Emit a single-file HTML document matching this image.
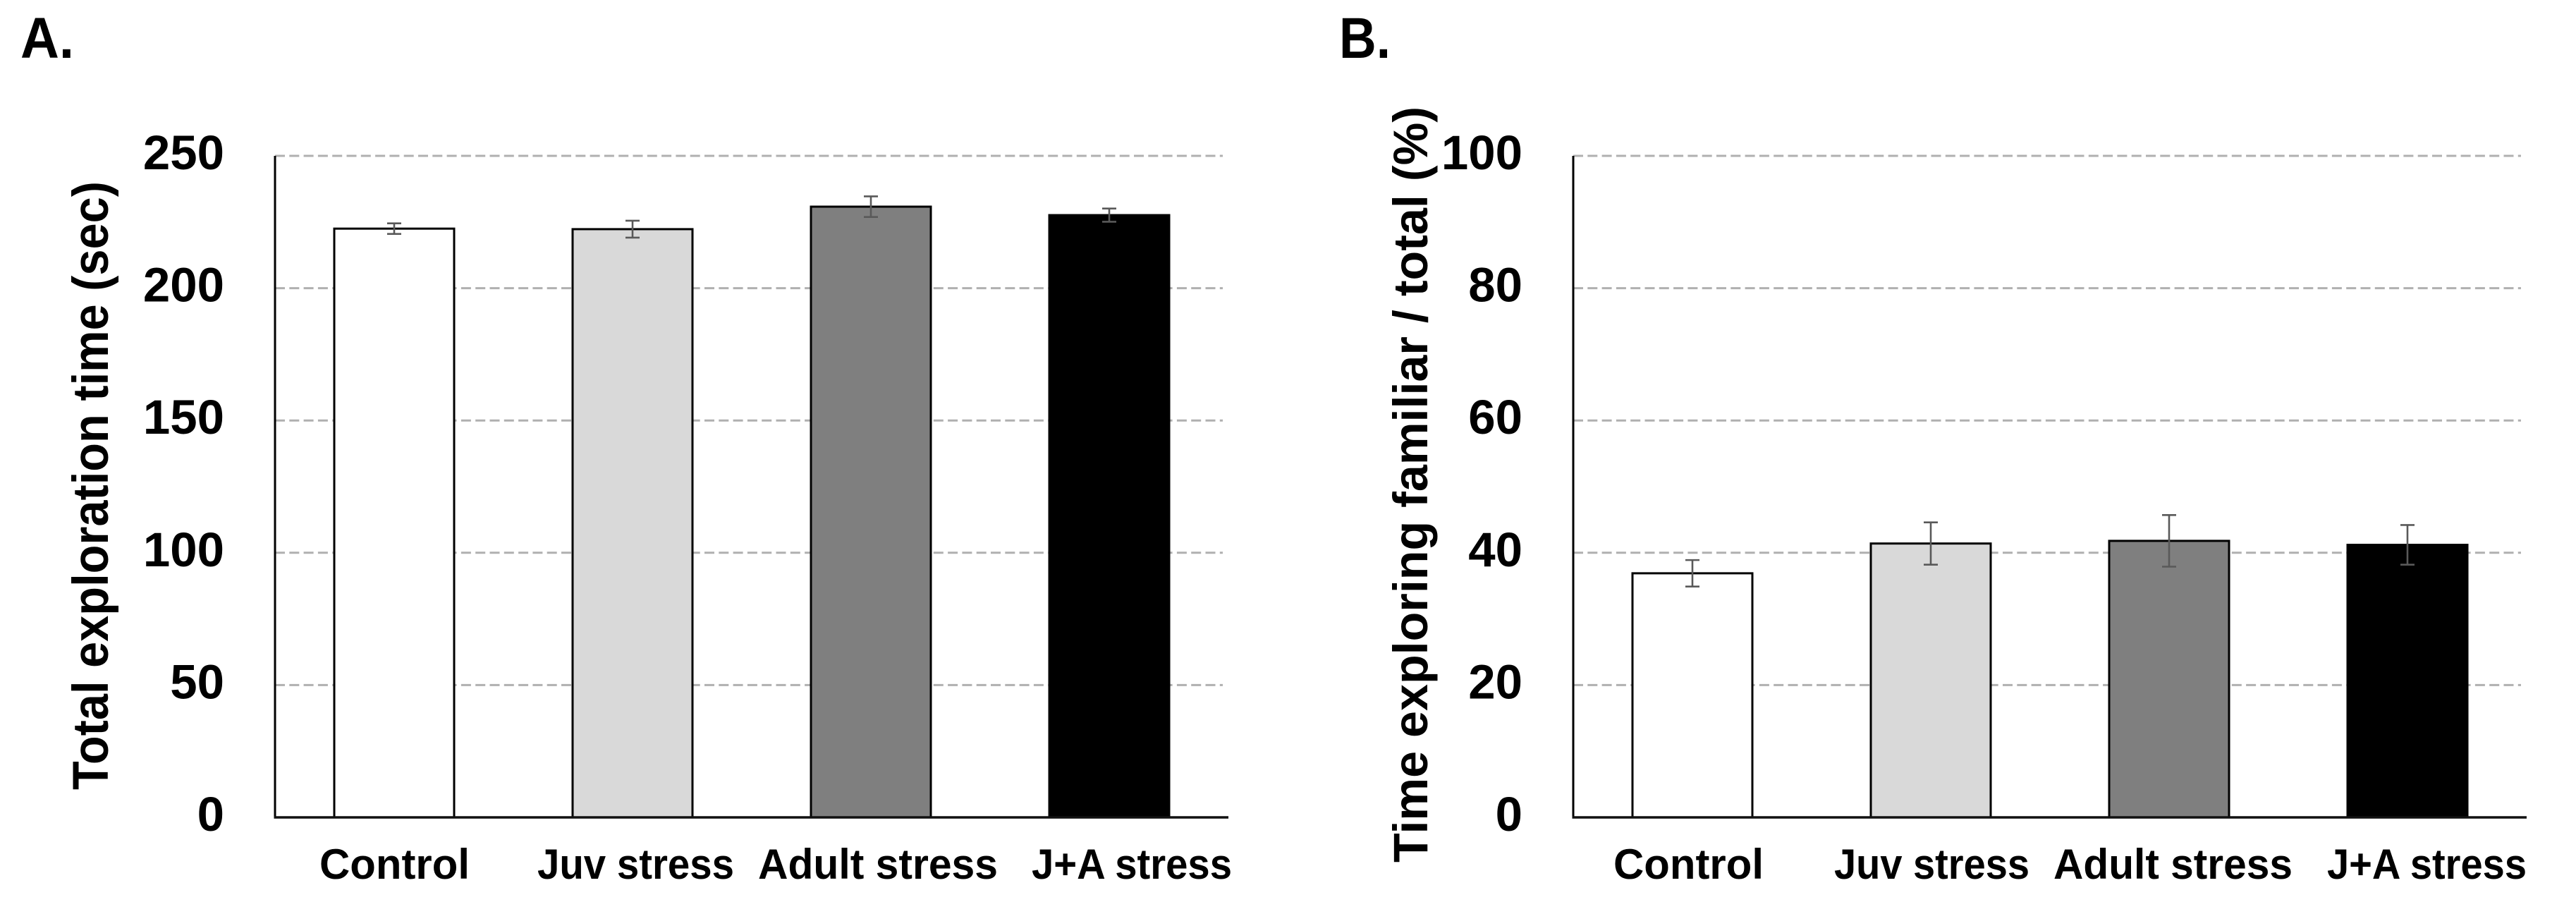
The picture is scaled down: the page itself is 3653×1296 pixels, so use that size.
<!DOCTYPE html>
<html lang="en">
<head>
<meta charset="utf-8">
<title>Exploration time by stress group</title>
<style>
  html, body { margin: 0; padding: 0; background: #fff; }
  svg { display: block; }
  text { font-family: "Liberation Sans", "DejaVu Sans", sans-serif; font-weight: bold; fill: #000; }
</style>
</head>
<body>
<svg id="figure" xmlns="http://www.w3.org/2000/svg" width="3653" height="1296" viewBox="0 0 3653 1296">
  <rect x="0" y="0" width="3653" height="1296" fill="#fff"/>

  <text x="29" y="82" font-size="82" textLength="76" lengthAdjust="spacingAndGlyphs">A.</text>
  <text x="1899" y="82" font-size="82" textLength="73" lengthAdjust="spacingAndGlyphs">B.</text>

  <g id="chart-a"></g>
  <g id="chart-b"></g>

  <text transform="translate(153 1120) rotate(-90)" font-size="71" textLength="863" lengthAdjust="spacingAndGlyphs">Total exploration time (sec)</text>
  <text transform="translate(2024 1223) rotate(-90)" font-size="69" textLength="1072" lengthAdjust="spacingAndGlyphs">Time exploring familiar / total (%)</text>

  <text x="453" y="1246" font-size="60" textLength="213" lengthAdjust="spacingAndGlyphs">Control</text>
  <text x="762" y="1246" font-size="60" textLength="279" lengthAdjust="spacingAndGlyphs">Juv stress</text>
  <text x="1075" y="1246" font-size="60" textLength="340" lengthAdjust="spacingAndGlyphs">Adult stress</text>
  <text x="1463" y="1246" font-size="60" textLength="284" lengthAdjust="spacingAndGlyphs">J+A stress</text>

  <text x="2288" y="1246" font-size="60" textLength="213" lengthAdjust="spacingAndGlyphs">Control</text>
  <text x="2601" y="1246" font-size="60" textLength="277" lengthAdjust="spacingAndGlyphs">Juv stress</text>
  <text x="2912" y="1246" font-size="60" textLength="339" lengthAdjust="spacingAndGlyphs">Adult stress</text>
  <text x="3300" y="1246" font-size="60" textLength="283" lengthAdjust="spacingAndGlyphs">J+A stress</text>
</svg>

<script>
const categories = ["Control", "Juv stress", "Adult stress", "J+A stress"];
const barFills = ["#ffffff", "#d9d9d9", "#7f7f7f", "#000000"];

const valuesA = [222.5, 222.3, 230.8, 227.6];
const errorsA = [2, 3.2, 3.9, 2.5];
const tickLabelsA = [0, 50, 100, 150, 200, 250];

const valuesB = [36.9, 41.4, 41.8, 41.2];
const errorsB = [2, 3.2, 3.9, 3];
const tickLabelsB = [0, 20, 40, 60, 80, 100];

const SVG_NS = "http://www.w3.org/2000/svg";

function make(parent, tag, attrs) {
  const el = document.createElementNS(SVG_NS, tag);
  for (const key in attrs) el.setAttribute(key, attrs[key]);
  parent.appendChild(el);
  return el;
}

function drawChart(rootId, plotLeft, values, errors, tickLabels) {
  const root = document.getElementById(rootId);
  const plotBottom = 1159;
  const plotTop = 221;
  const band = 338;
  const barWidth = 170;
  const plotRight = plotLeft + band * categories.length;
  const maxTick = tickLabels[tickLabels.length - 1];

  const yScale = v => plotBottom - (v / maxTick) * (plotBottom - plotTop);
  const xCenter = i => plotLeft + band * (i + 0.5);

  tickLabels.forEach(tick => {
    if (tick !== 0) {
      const grid = make(root, "line", {
        x1: plotLeft, x2: plotRight - 8, y1: yScale(tick), y2: yScale(tick),
        stroke: "#b0b0b0", "stroke-width": 3, "stroke-dasharray": "14 6.3"
      });
      
      
    }
    const label = make(root, "text", {
      x: plotLeft - 72, y: yScale(tick) + 19, "font-size": 69, "text-anchor": "end"
    });
    label.textContent = tick;
    
    
  });

  values.forEach((value, i) => {
    const top = yScale(value);
    const bar = make(root, "rect", {
      x: xCenter(i) - barWidth / 2, y: top, width: barWidth, height: plotBottom - top,
      fill: barFills[i], stroke: "#000", "stroke-width": 3
    });
    
    
    const title = make(bar, "title", {});
    title.textContent = categories[i];
  });

  const yAxis = make(root, "line", {
    x1: plotLeft, x2: plotLeft, y1: plotTop, y2: plotBottom + 1.5, stroke: "#000", "stroke-width": 3
  });
  
  

  const xAxis = make(root, "line", {
    x1: plotLeft - 1.5, x2: plotRight, y1: plotBottom, y2: plotBottom, stroke: "#111", "stroke-width": 3.5
  });
  
  

  values.forEach((value, i) => {
    const cx = xCenter(i);
    const hi = yScale(value + errors[i]);
    const lo = yScale(value - errors[i]);
    const stem = make(root, "line", { x1: cx, x2: cx, y1: hi, y2: lo, stroke: "#595959", "stroke-width": 2.6 });
    
    
    const capTop = make(root, "line", { x1: cx - 10, x2: cx + 10, y1: hi, y2: hi, stroke: "#595959", "stroke-width": 2.6 });
    
    
    const capBottom = make(root, "line", { x1: cx - 10, x2: cx + 10, y1: lo, y2: lo, stroke: "#595959", "stroke-width": 2.6 });
    
    
  });
}

drawChart("chart-a", 390, valuesA, errorsA, tickLabelsA);
drawChart("chart-b", 2231, valuesB, errorsB, tickLabelsB);
</script>
</body>
</html>
